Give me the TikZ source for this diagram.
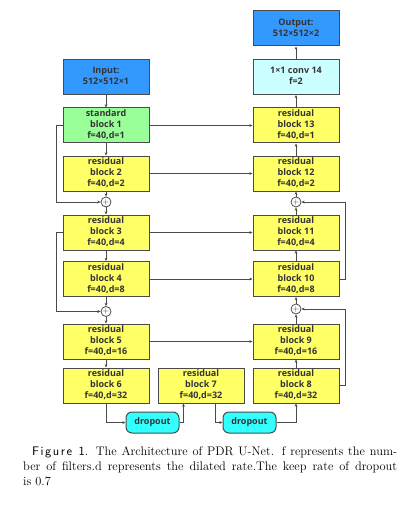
\documentclass[tikz,border=0pt]{standalone}
\usepackage{fontspec}
\newfontfamily\boxfont{Open Sans}
\newfontfamily\figfont{lmsans10-regular.otf}[LetterSpace=12]
\usetikzlibrary{arrows.meta}
\definecolor{inblue}{HTML}{3399FF}
\definecolor{stdgreen}{HTML}{99FF99}
\definecolor{resyellow}{HTML}{FFFF66}
\definecolor{convcyan}{HTML}{CCFFFF}
\definecolor{dropcyan}{HTML}{33FFFF}
\definecolor{edge}{HTML}{4A4A4A}
\definecolor{txt}{HTML}{333333}
\newcommand\blab[1]{\begin{tabular}{@{}c@{}}#1\end{tabular}}
\begin{document}
\begin{tikzpicture}[x=1pt,y=-1pt,
  blk/.style={draw=edge, line width=1pt, minimum width=86pt, minimum height=35pt,
    inner sep=0pt, text=txt,
    font=\boxfont\bfseries\fontsize{9}{11}\selectfont},
  resblk/.style={blk, fill=resyellow},
  dropblk/.style={draw=edge, line width=1pt, fill=dropcyan, rounded corners=6pt,
    minimum width=53pt, minimum height=21pt, inner sep=0pt, text=txt,
    font=\boxfont\bfseries\fontsize{9}{11}\selectfont},
  plusn/.style={draw=edge, line width=0.8pt, fill=white, circle, minimum size=10pt,
    inner sep=0pt, text=txt, font=\fontsize{8}{8}\selectfont},
  conn/.style={draw=edge, line width=0.9pt, -{Stealth[length=3.2pt,width=2.8pt]}},
]
\useasboundingbox (0,0) rectangle (406,505);
\fill[white] (0,0) rectangle (406,505);

% left column
\node[blk, fill=inblue] (in) at (106,77) {\blab{Input:\\512×512×1}};
\node[blk, fill=stdgreen] (b1) at (106,125.5) {\blab{standard\\block 1\\f=40,d=1}};
\node[resblk] (b2) at (106,173.5) {\blab{residual\\block 2\\f=40,d=2}};
\node[plusn] (p1) at (106,202) {+};
\node[resblk] (b3) at (106,232.5) {\blab{residual\\block 3\\f=40,d=4}};
\node[resblk] (b4) at (106,279) {\blab{residual\\block 4\\f=40,d=8}};
\node[plusn] (p2) at (106,311.5) {+};
\node[resblk] (b5) at (106,341.5) {\blab{residual\\block 5\\f=40,d=16}};
\node[resblk] (b6) at (106,385.5) {\blab{residual\\block 6\\f=40,d=32}};

% middle
\node[resblk] (b7) at (201,385.5) {\blab{residual\\block 7\\f=40,d=32}};
\node[dropblk] (d1) at (152.5,422.5) {dropout};
\node[dropblk] (d2) at (249.5,422.5) {dropout};

% right column
\node[blk, fill=inblue] (out) at (296,28.5) {\blab{Output:\\512×512×2}};
\node[blk, fill=convcyan] (cv) at (296,77) {\blab{1×1 conv 14\\f=2}};
\node[resblk] (b13) at (296,125.5) {\blab{residual\\block 13\\f=40,d=1}};
\node[resblk] (b12) at (296,173.5) {\blab{residual\\block 12\\f=40,d=2}};
\node[plusn] (p3) at (296,202) {+};
\node[resblk] (b11) at (296,232.5) {\blab{residual\\block 11\\f=40,d=4}};
\node[resblk] (b10) at (296,279) {\blab{residual\\block 10\\f=40,d=8}};
\node[plusn] (p4) at (296,309) {+};
\node[resblk] (b9) at (296,341.5) {\blab{residual\\block 9\\f=40,d=16}};
\node[resblk] (b8) at (296,385.5) {\blab{residual\\block 8\\f=40,d=32}};

% left vertical flow
\draw[conn] (in) -- (b1);
\draw[conn] (b1) -- (b2);
\draw[conn] (b2) -- (p1);
\draw[conn] (p1) -- (b3);
\draw[conn] (b3) -- (b4);
\draw[conn] (b4) -- (p2);
\draw[conn] (p2) -- (b5);
\draw[conn] (b5) -- (b6);
% left skips
\draw[conn] (b1.west) -- ++(-6,0) |- (p1.west);
\draw[conn] (b3.west) -- ++(-6,0) |- (p2.west);
% bottom
\draw[conn] (b6.south) |- (d1.west);
\draw[conn] (d1.east) -| ([xshift=26pt]b7.south west);
\draw[conn] ([xshift=58pt]b7.south west) |- (d2.west);
\draw[conn] (d2.east) -| (b8.south);
% right vertical flow
\draw[conn] (b8) -- (b9);
\draw[conn] (b9) -- (p4);
\draw[conn] (p4) -- (b10);
\draw[conn] (b10) -- (b11);
\draw[conn] (b11) -- (p3);
\draw[conn] (p3) -- (b12);
\draw[conn] (b12) -- (b13);
\draw[conn] (b13) -- (cv);
\draw[conn] (cv) -- (out);
% right skips
\draw[conn] (b10.east) -- ++(6,0) |- (p3.east);
\draw[conn] (b8.east) -- ++(6,0) |- (p4.east);
% horizontal concatenations
\draw[conn] (b1.east) -- (b13.west);
\draw[conn] (b2.east) -- (b12.west);
\draw[conn] (b3.east) -- (b11.west);
\draw[conn] (b4.east) -- (b10.west);
\draw[conn] (b5.east) -- (b9.west);

% caption
\node[anchor=north west, inner sep=0pt, text width=374pt, align=justify,
  font=\fontsize{12.4}{15}\selectfont] (cap) at (23,446)
  {\hspace*{9pt}{\figfont Figure 1}. The Architecture of PDR U-Net. f represents the num-\linebreak ber of filters.d represents the dilated rate.The keep rate of dropout\linebreak is 0.7};
\end{tikzpicture}
\end{document}
